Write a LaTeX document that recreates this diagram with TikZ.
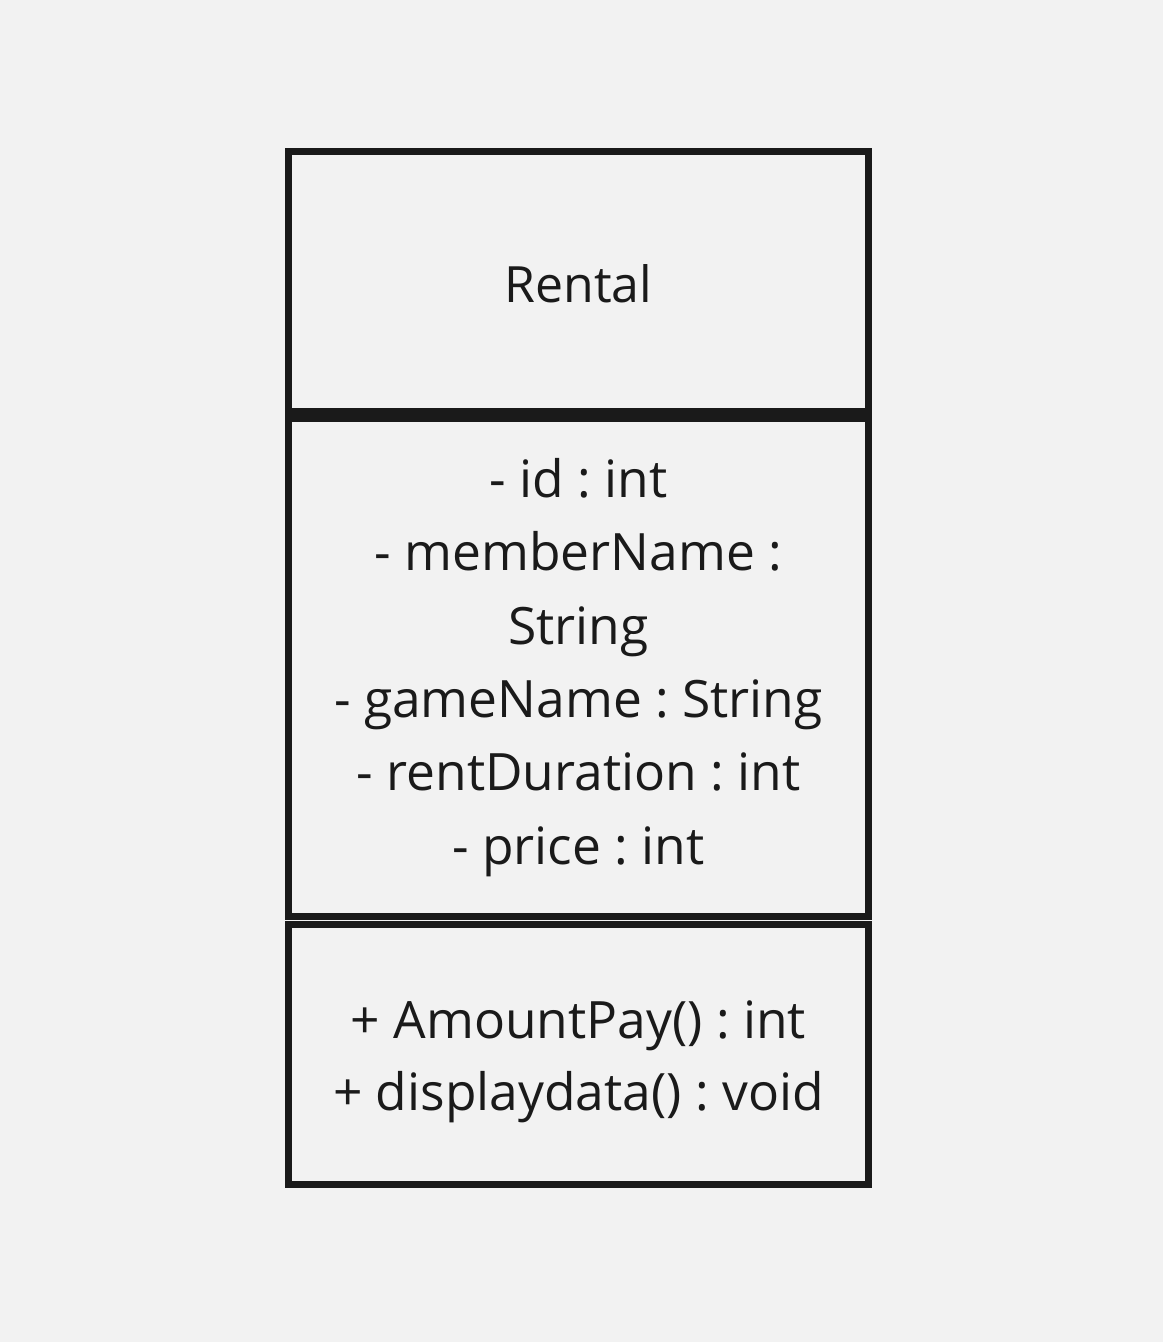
\documentclass[tikz,border=0pt]{standalone}
\usepackage{fontspec}
\setmainfont{Open Sans}
\frenchspacing
\definecolor{bg}{HTML}{F2F2F2}
\definecolor{ink}{HTML}{1A1A1A}
\begin{document}
\begin{tikzpicture}[x=1pt,y=-1pt,
  umlbox/.style={draw=ink,line width=7pt,fill=bg,inner sep=0pt},
  title/.style={anchor=base,text=ink,font=\fontsize{50}{60}\selectfont,inner sep=0pt},
  member/.style={anchor=base,text=ink,font=\fontsize{51.5}{60}\selectfont,inner sep=0pt}]
\fill[bg] (0,0) rectangle (1163,1342);
\useasboundingbox (0,0) rectangle (1163,1342);
\draw[umlbox] (288.5,151.5) rectangle (868.5,411.5);
\draw[umlbox] (288.5,418.5) rectangle (868.5,916.5);
\draw[umlbox] (288.5,924) rectangle (868.5,1184.5);
\node[title] (name) at (578.5,302) {Rental};
\node[member] (a1) at (578.5,497) {- id : int};
\node[member] (a2) at (578.5,570) {- memberName :};
\node[member] (a3) at (578.5,644) {String};
\node[member] (a4) at (578.5,717) {- gameName : String};
\node[member] (a5) at (578.5,790) {- rentDuration : int};
\node[member] (a6) at (578.5,864) {- price : int};
\node[member] (m1) at (578.5,1038) {+ AmountPay() : int};
\node[member] (m2) at (578.5,1110) {+ displaydata() : void};
\end{tikzpicture}
\end{document}
